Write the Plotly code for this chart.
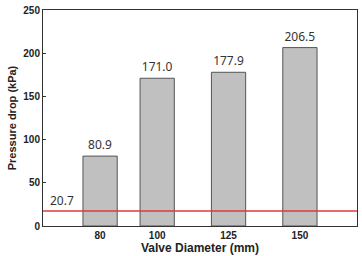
import plotly.graph_objects as go

diameters = [80, 100, 125, 150]
pressure_drop = [80.9, 171.0, 177.9, 206.5]
bar_labels = ["80.9", "171.0", "177.9", "206.5"]
ref_line_value = 17.5
ref_label = "20.7"
y_ticks = [0, 50, 100, 150, 200, 250]

fig = go.Figure()
fig.add_trace(go.Bar(
    x=diameters, y=pressure_drop, width=12,
    marker=dict(color="#c0c0c0", line=dict(color="#555555", width=1)),
    text=bar_labels, textposition="outside", cliponaxis=False,
    textfont=dict(family="Noto Sans", size=12, color="#333333"),
))
fig.add_trace(go.Scatter(
    x=[60, 170], y=[ref_line_value, ref_line_value], mode="lines",
    line=dict(color="#e0383a", width=1.5), hoverinfo="skip",
))
fig.add_annotation(x=66.5, y=29, text=ref_label, showarrow=False,
                   font=dict(family="Noto Sans", size=12, color="#333333"))

fig.update_layout(
    width=362, height=256, margin=dict(l=43, r=4, t=6, b=28),
    paper_bgcolor="white", plot_bgcolor="white", showlegend=False,
    font=dict(family="Liberation Sans", color="#222222"),
)
fig.update_xaxes(
    range=[60, 170], tickvals=diameters, ticktext=[str(d) for d in diameters],
    showline=True, linecolor="#333333", linewidth=1, mirror=True,
    ticks="", showgrid=False, zeroline=False,
    tickfont=dict(family="Liberation Sans", size=10, weight="bold"),
    title=dict(text="<b>Valve Diameter (mm)</b>", font=dict(size=12), standoff=3),
)
fig.update_yaxes(
    range=[0, 250], tickvals=y_ticks,
    showline=True, linecolor="#333333", linewidth=1, mirror=True,
    ticks="inside", ticklen=3, tickcolor="#333333", showgrid=False, zeroline=False,
    tickfont=dict(family="Liberation Sans", size=10, weight="bold"),
    title=dict(text="<b>Pressure drop (kPa)</b>", font=dict(size=11), standoff=4),
)
fig.write_html("out.html")
